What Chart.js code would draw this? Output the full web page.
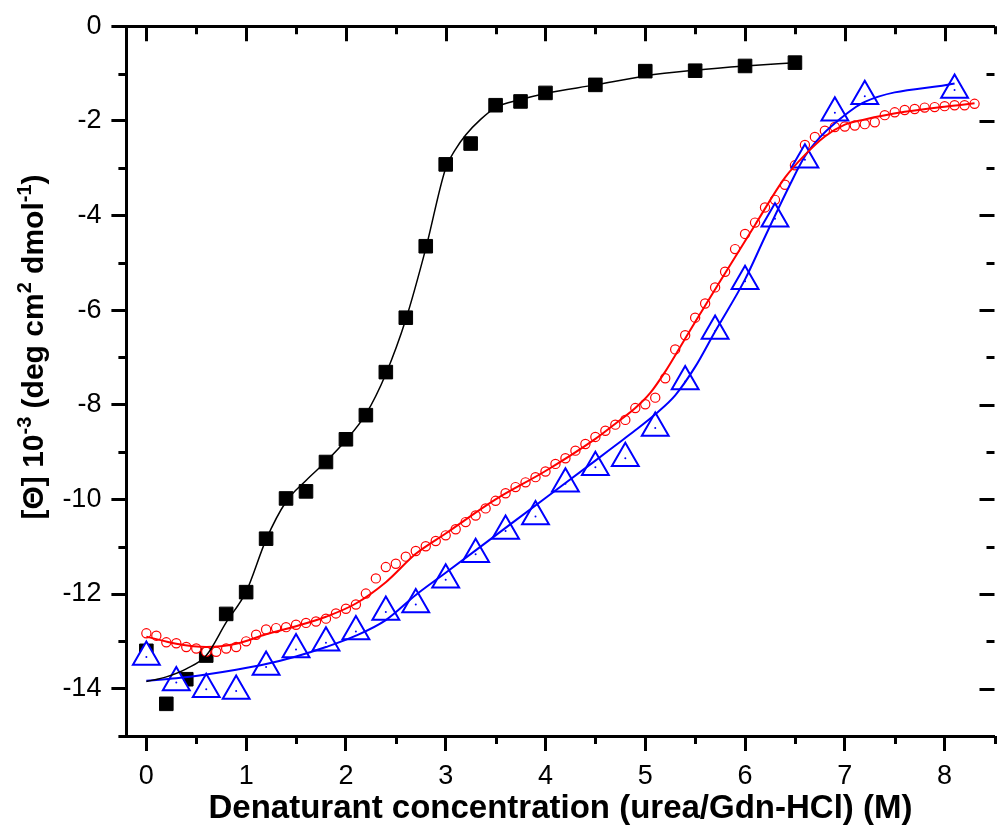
<!DOCTYPE html>
<html>
<head>
<meta charset="utf-8">
<script src="https://cdn.jsdelivr.net/npm/chart.js@4.4.1/dist/chart.umd.min.js"></script>
<style>
  html, body { margin: 0; padding: 0; background: #fff; overflow: hidden; }
  #wrap { width: 1000px; height: 829px; overflow: hidden; }
  #cdChart { display: block; }
</style>
</head>
<body>
<div id="wrap"><canvas id="cdChart" width="1012" height="829" style="width:1012px;height:829px"></canvas></div>
<script>
// black squares (urea) + fit
const blackX = [0, 0.2, 0.4, 0.6, 0.8, 1.0, 1.2, 1.4, 1.6, 1.8, 2.0, 2.2, 2.4, 2.6, 2.8, 3.0, 3.25, 3.5, 3.75, 4.0, 4.5, 5.0, 5.5, 6.0, 6.5];
const blackY = [-13.2, -14.32, -13.8, -13.3, -12.42, -11.96, -10.83, -9.98, -9.83, -9.21, -8.73, -8.22, -7.31, -6.16, -4.65, -2.92, -2.48, -1.67, -1.59, -1.41, -1.24, -0.95, -0.94, -0.84, -0.77];
const blackFitX = [0, 0.2, 0.4, 0.6, 0.8, 1.0, 1.2, 1.4, 1.6, 1.8, 2.0, 2.2, 2.4, 2.6, 2.8, 3.0, 3.1, 3.2, 3.35, 3.5, 3.75, 4.0, 4.5, 5.0, 5.5, 6.0, 6.5];
const blackFitY = [-13.85, -13.75, -13.58, -13.3, -12.6, -11.95, -10.85, -10.05, -9.6, -9.2, -8.75, -8.2, -7.35, -6.2, -4.7, -3.0, -2.6, -2.3, -1.97, -1.72, -1.55, -1.42, -1.24, -1.05, -0.93, -0.84, -0.77];

// red circles + fit
const redX = [0, 0.1, 0.2, 0.3, 0.4, 0.5, 0.6, 0.7, 0.8, 0.9, 1.0, 1.1, 1.2, 1.3, 1.4, 1.5, 1.6, 1.7, 1.8, 1.9,
              2.0, 2.1, 2.2, 2.3, 2.4, 2.5, 2.6, 2.7, 2.8, 2.9, 3.0, 3.1, 3.2, 3.3, 3.4, 3.5, 3.6, 3.7, 3.8, 3.9,
              4.0, 4.1, 4.2, 4.3, 4.4, 4.5, 4.6, 4.7, 4.8, 4.9, 5.0, 5.1, 5.2, 5.3, 5.4, 5.5, 5.6, 5.7, 5.8, 5.9,
              6.0, 6.1, 6.2, 6.3, 6.4, 6.5, 6.6, 6.7, 6.8, 6.9, 7.0, 7.1, 7.2, 7.3, 7.4, 7.5, 7.6, 7.7, 7.8, 7.9,
              8.0, 8.1, 8.2, 8.3];
const redY = [-12.83, -12.88, -13.02, -13.04, -13.12, -13.15, -13.22, -13.22, -13.15, -13.12,
              -13.0, -12.86, -12.75, -12.72, -12.7, -12.65, -12.61, -12.58, -12.52, -12.41,
              -12.31, -12.22, -11.99, -11.67, -11.43, -11.36, -11.21, -11.09, -10.99, -10.88,
              -10.76, -10.63, -10.48, -10.34, -10.19, -10.03, -9.87, -9.74, -9.64, -9.53,
              -9.41, -9.25, -9.13, -8.97, -8.83, -8.68, -8.55, -8.42, -8.32, -8.07,
              -7.99, -7.85, -7.44, -6.83, -6.53, -6.16, -5.86, -5.52, -5.19, -4.71,
              -4.39, -4.15, -3.83, -3.67, -3.35, -2.94, -2.51, -2.34, -2.21, -2.13,
              -2.12, -2.1, -2.07, -2.03, -1.88, -1.82, -1.77, -1.75, -1.72, -1.71,
              -1.69, -1.67, -1.67, -1.64];
const redFitX = [0, 0.3, 0.6, 0.9, 1.2, 1.5, 1.8, 2.1, 2.4, 2.7, 3.0, 3.5, 4.0, 4.5, 4.7, 4.9, 5.05, 5.2, 5.35, 5.5, 5.8, 6.1, 6.4, 6.6, 6.8, 7.0, 7.2, 7.6, 8.0, 8.3];
const redFitY = [-12.9, -13.05, -13.12, -13.05, -12.85, -12.68, -12.48, -12.2, -11.75, -11.15, -10.72, -10.0, -9.4, -8.72, -8.4, -8.07, -7.75, -7.3, -6.78, -6.25, -5.22, -4.2, -3.2, -2.72, -2.33, -2.08, -1.97, -1.81, -1.7, -1.63];

// blue triangles + fit
const blueX = [0, 0.3, 0.6, 0.9, 1.2, 1.5, 1.8, 2.1, 2.4, 2.7, 3.0, 3.3, 3.6, 3.9, 4.2, 4.5, 4.8, 5.1, 5.4, 5.7, 6.0, 6.3, 6.6, 6.9, 7.2, 8.1];
const blueY = [-13.33, -13.87, -14.01, -14.05, -13.54, -13.17, -13.03, -12.79, -12.38, -12.22, -11.7, -11.16, -10.67, -10.36, -9.67, -9.32, -9.13, -8.49, -7.51, -6.44, -5.39, -4.07, -2.82, -1.83, -1.48, -1.35];
const blueFitX = [0, 0.3, 0.6, 0.9, 1.2, 1.5, 1.8, 2.1, 2.4, 2.7, 3.0, 3.5, 4.0, 4.5, 4.7, 4.9, 5.1, 5.3, 5.5, 5.7, 6.0, 6.2, 6.45, 6.6, 6.75, 6.9, 7.2, 8.1];
const blueFitY = [-13.83, -13.78, -13.7, -13.6, -13.48, -13.32, -13.12, -12.88, -12.55, -12.02, -11.55, -10.76, -9.97, -9.18, -8.86, -8.54, -8.2, -7.8, -7.2, -6.45, -5.35, -4.45, -3.35, -2.75, -2.35, -2.05, -1.6, -1.21];

const xTitle = 'Denaturant concentration (urea/Gdn-HCl) (M)';
const yTitleParts = [['[\u0398] 10', false], ['-3', true], [' (deg cm', false], ['2', true], [' dmol', false], ['-1', true], [')', false]];

const FONT = '"Liberation Sans", Arial, sans-serif';
const pts = (xs, ys) => xs.map((x, i) => ({ x: x, y: ys[i] }));

// minor ticks, inward ticks on top/right, rotated y title with superscripts
const frameTicks = {
    id: 'frameTicks',
    afterDraw(chart) {
        const { ctx, chartArea: a } = chart;
        const xs = chart.scales.x, ys = chart.scales.y;
        ctx.save();
        ctx.strokeStyle = '#000';
        ctx.lineWidth = 3;
        ctx.beginPath();
        for (let v = 0; v <= 8.5; v += 0.5) {
            const px = Math.round(xs.getPixelForValue(v)) + 0.5;
            const major = Math.abs(v - Math.round(v)) < 1e-6;
            if (!major) {
                ctx.moveTo(px, a.bottom); ctx.lineTo(px, a.bottom + 8);
            }
            ctx.moveTo(px, a.top); ctx.lineTo(px, a.top + (major ? 15 : 8));
        }
        for (let v = 0; v >= -15; v -= 1) {
            const py = Math.round(ys.getPixelForValue(v)) + 0.5;
            const major = v % 2 === 0;
            if (!major) {
                ctx.moveTo(a.left, py); ctx.lineTo(a.left - 8, py);
            }
            ctx.moveTo(a.right, py); ctx.lineTo(a.right - (major ? 15 : 8), py);
        }
        ctx.stroke();

        // y axis title
        ctx.translate(43, 347);
        ctx.rotate(-Math.PI / 2);
        ctx.fillStyle = '#000';
        ctx.textBaseline = 'alphabetic';
        const big = 'bold 30px ' + FONT, small = 'bold 20px ' + FONT;
        let total = 0;
        yTitleParts.forEach(([t, sup]) => { ctx.font = sup ? small : big; total += ctx.measureText(t).width; });
        let cx = -total / 2;
        yTitleParts.forEach(([t, sup]) => {
            ctx.font = sup ? small : big;
            ctx.fillText(t, cx, sup ? -12 : 0);
            cx += ctx.measureText(t).width;
        });
        ctx.restore();
    }
};

function initChart() {
    if (typeof Chart === 'undefined') {
        console.warn('Chart.js not loaded');
        return;
    }
    const ctx = document.getElementById('cdChart');
    new Chart(ctx, {
        type: 'scatter',
        data: {
            datasets: [
                { data: pts(blueX, blueY), pointStyle: 'circle', pointRadius: 1, pointBackgroundColor: '#0000ff', pointBorderWidth: 0, showLine: false, order: 0 },
                { data: pts(blackFitX, blackFitY), showLine: true, borderColor: '#000', borderWidth: 1.5, pointRadius: 0, cubicInterpolationMode: 'monotone', order: 1 },
                { data: pts(redFitX, redFitY), showLine: true, borderColor: '#ff0000', borderWidth: 2, pointRadius: 0, cubicInterpolationMode: 'monotone', order: 2 },
                { data: pts(blueFitX, blueFitY), showLine: true, borderColor: '#0000ff', borderWidth: 2, pointRadius: 0, cubicInterpolationMode: 'monotone', order: 3 },
                { data: pts(blueX, blueY), pointStyle: 'triangle', pointRadius: 15.5, pointBorderColor: '#0000ff', pointBackgroundColor: '#fff', pointBorderWidth: 2, showLine: false, order: 4 },
                { data: pts(redX, redY), pointStyle: 'circle', pointRadius: 4.6, pointBorderColor: '#ff0000', pointBackgroundColor: '#fff', pointBorderWidth: 1.2, showLine: false, order: 5 },
                { data: pts(blackX, blackY), pointStyle: 'rect', pointRadius: 9.6, pointBorderColor: '#000', pointBackgroundColor: '#000', pointBorderWidth: 1, showLine: false, order: 6 }
            ]
        },
        options: {
            responsive: false,
            animation: false,
            events: [],
            layout: { padding: { top: 0, right: 4.2, bottom: 0, left: 0 } },
            plugins: { legend: { display: false }, tooltip: { enabled: false } },
            scales: {
                x: {
                    type: 'linear', position: 'bottom', min: -0.2, max: 8.5,
                    ticks: { stepSize: 1, includeBounds: false, color: '#000', padding: 9, font: { family: FONT, size: 27 }, callback: v => String(v) },
                    grid: { drawOnChartArea: false, tickLength: 15, tickWidth: 3, tickColor: '#000' },
                    border: { display: true, width: 3, color: '#000' },
                    title: { display: true, text: xTitle, color: '#000', padding: { top: 0, bottom: 0 }, font: { family: FONT, size: 33, weight: 'bold' } },
                    afterFit: s => { s.height = 93; }
                },
                x2: {
                    type: 'linear', position: 'top', min: -0.2, max: 8.5,
                    ticks: { display: false },
                    grid: { display: false },
                    border: { display: true, width: 3, color: '#000' },
                    afterFit: s => { s.height = 24.3; }
                },
                y: {
                    type: 'linear', position: 'left', min: -15, max: 0,
                    ticks: { stepSize: 2, includeBounds: false, color: '#000', padding: 10, font: { family: FONT, size: 27 }, callback: v => String(v) },
                    grid: { drawOnChartArea: false, tickLength: 15, tickWidth: 3, tickColor: '#000' },
                    border: { display: true, width: 3, color: '#000' },
                    afterFit: s => { s.width = 126.4; }
                }
            }
        },
        plugins: [frameTicks]
    });
}

initChart();
</script>
</body>
</html>
